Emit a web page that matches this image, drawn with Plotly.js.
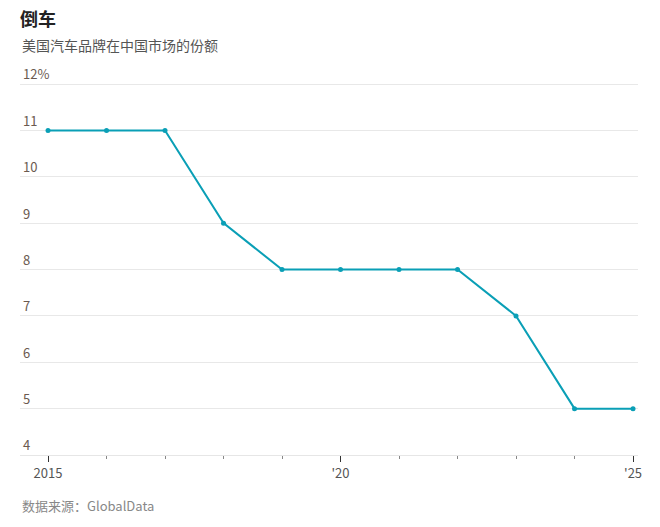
<!DOCTYPE html>
<html>
<head>
<meta charset="utf-8">
<script src="https://cdn.plot.ly/plotly-3.0.1.min.js"></script>
<style>html,body{margin:0;padding:0;background:#fff;}#chart{width:660px;height:527px;}</style>
</head>
<body>
<div id="chart"></div>
<script>
const years = [2015, 2016, 2017, 2018, 2019, 2020, 2021, 2022, 2023, 2024, 2025];
const share = [11, 11, 11, 9, 8, 8, 8, 8, 7, 5, 5];
const yTickVals = [4, 5, 6, 7, 8, 9, 10, 11, 12];
const yTickText = ['4', '5', '6', '7', '8', '9', '10', '11', '12%'];
const xTickVals = [2015, 2020, 2025];
const xTickText = ['2015', "'20", "'25"];

const FONT = 'Noto Sans CJK SC, Noto Sans, sans-serif';
const W = 660, H = 527, L = 20, R = 22, T = 50, B = 72;
const ph = H - T - B;
const unitPx = 371 / 8;
const yTop = 12 + (84 - T) / unitPx;
const xRange = [2014.521, 2025.085];

const trace = {
  x: years, y: share, type: 'scatter', mode: 'lines+markers',
  line: {color: '#0a9fb6', width: 2},
  marker: {color: '#0a9fb6', size: 5},
  hoverinfo: 'skip'
};

const labelTrace = {x: [years[0]], y: [share[0]], xaxis: 'x2', yaxis: 'y2', type: 'scatter', mode: 'markers',
  marker: {opacity: 0, size: 1}, hoverinfo: 'skip', showlegend: false};

const layout = {
  width: W, height: H,
  margin: {l: L, r: R, t: T, b: B},
  paper_bgcolor: '#fff', plot_bgcolor: '#fff',
  font: {family: FONT, color: '#666', size: 13},
  showlegend: false,
  title: {
    text: '<b>倒车</b>', xref: 'container', yref: 'container',
    x: L / W, xanchor: 'left', y: 1 - 20 / H, yanchor: 'middle',
    font: {family: FONT, size: 18, color: '#222'}
  },
  xaxis: {
    range: xRange, anchor: 'y',
    tickmode: 'array', tickvals: xTickVals, ticktext: xTickText,
    ticks: 'outside', ticklen: 6, tickcolor: '#333', tickwidth: 1,
    showgrid: false, zeroline: false,
    showline: true, linecolor: '#e6e6e6', linewidth: 1,
    tickfont: {family: FONT, size: 13, color: '#555'},
    minor: {dtick: 1, tick0: 2015, ticks: 'outside', ticklen: 3, tickcolor: '#888', showgrid: false},
    fixedrange: true
  },
  yaxis: {
    range: [4, yTop], anchor: 'x',
    tickmode: 'array', tickvals: yTickVals,
    showticklabels: false,
    showgrid: true, gridcolor: '#e8e8e8', gridwidth: 1,
    zeroline: false, showline: false, ticks: '',
    fixedrange: true
  },
  xaxis2: {
    overlaying: 'x', anchor: 'y2', range: xRange,
    showticklabels: false, ticks: '', showgrid: false, zeroline: false, showline: false,
    fixedrange: true
  },
  yaxis2: {
    overlaying: 'y', anchor: 'x2', side: 'left',
    range: [4, yTop],
    tickmode: 'array', tickvals: yTickVals, ticktext: yTickText,
    ticklabelposition: 'inside top',
    showgrid: false, zeroline: false, showline: false, ticks: '',
    tickfont: {family: FONT, size: 13, color: '#6b5a50'},
    fixedrange: true
  },
  annotations: [
    {text: '美国汽车品牌在中国市场的份额', xref: 'paper', yref: 'paper',
     x: 0, xanchor: 'left', y: 1 + (T - 45) / ph, yanchor: 'middle',
     showarrow: false, font: {family: FONT, size: 14, color: '#555'}},
    {text: '数据来源：GlobalData', xref: 'paper', yref: 'paper',
     x: 0, xanchor: 'left', y: -(505 - (H - B)) / ph, yanchor: 'middle',
     showarrow: false, font: {family: FONT, size: 13, color: '#888'}}
  ]
};

Plotly.newPlot('chart', [trace, labelTrace], layout, {displayModeBar: false, staticPlot: true});
</script>
</body>
</html>
